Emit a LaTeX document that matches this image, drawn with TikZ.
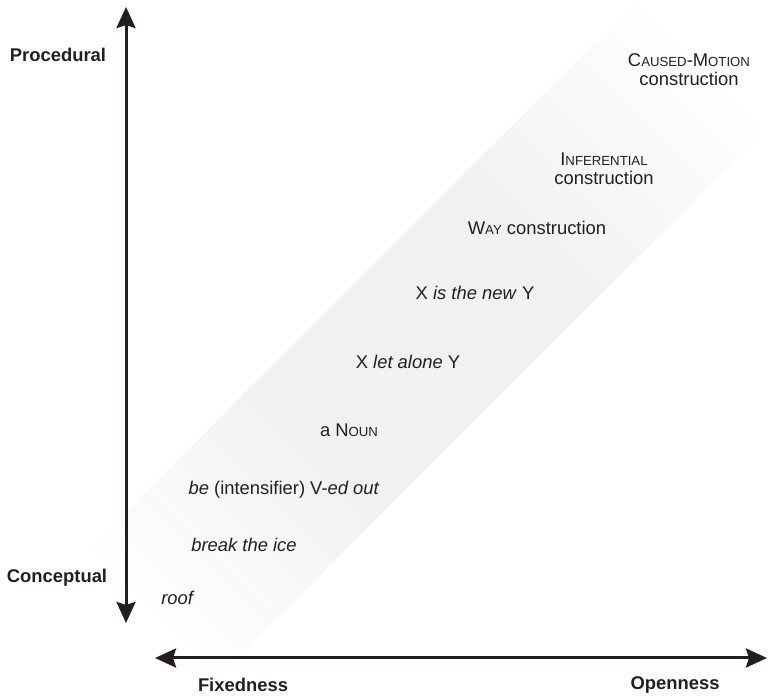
\documentclass[tikz,border=0pt]{standalone}
\usepackage{fontspec}
\setmainfont{Liberation Sans}
\usetikzlibrary{arrows.meta}
\definecolor{bandgray}{RGB}{240,241,241}
\definecolor{inkgray}{RGB}{35,31,32}
\newcommand{\smcap}[1]{{\fontsize{13.2}{16}\selectfont #1}}

\begin{document}
\begin{tikzpicture}[x=1pt,y=1pt,
    axis/.style={line width=3pt, inkgray, {Stealth[length=21pt,width=19pt,inset=3pt]}-{Stealth[length=21pt,width=19pt,inset=3pt]}},
    pole/.style={font=\fontsize{18.4}{22}\selectfont\bfseries, text=inkgray, inner sep=0pt},
    entry/.style={font=\fontsize{18.4}{19}\selectfont, text=inkgray, align=center, inner sep=0pt}]
\useasboundingbox (0,0) rectangle (768,698);

% Band
\begin{scope}
    \clip (0,0) rectangle (768,698);
    \begin{scope}[transform canvas={shift={(68.5,0)},rotate=45}]
        \shade[left color=white, right color=bandgray] (110,-91) rectangle (360.5,91);
        \fill[bandgray] (360,-91) rectangle (640.5,91);
        \shade[left color=bandgray, right color=white] (640,-91) rectangle (900,91);
        \draw[black!7, line width=0.6pt] (514,-91) -- (514,91);
    \end{scope}
\end{scope}

% Axes
\coordinate (ptop) at (126,691);
\coordinate (pbot) at (126,75);
\coordinate (oleft) at (155,40);
\coordinate (oright) at (767,40);
\draw[axis] (ptop) -- (pbot);
\draw[axis] (oleft) -- (oright);

% Axis labels
\node[pole] (procedural) at (58,643) {Procedural};
\node[pole] (conceptual) at (57,120) {Conceptual};
\node[pole] (fixedness) at (243,13) {Fixedness};
\node[pole] (openness) at (675,13) {Openness};

% Constructions
\node[entry] (causedmotion) at (689,628) {C\smcap{AUSED}-M\smcap{OTION}\\construction};
\node[entry] (inferential) at (604,529) {I\smcap{NFERENTIAL}\\construction};
\node[entry] (way) at (537,470) {W\smcap{AY} construction};
\node[entry] (isthenew) at (475,405) {X \textit{is the new} Y};
\node[entry] (letalone) at (408,336) {X \textit{let alone} Y};
\node[entry] (anoun) at (349,268) {a N\smcap{OUN}};
\node[entry] (vedout) at (284,208) {\textit{be} (intensifier) V-\textit{ed out}};
\node[entry] (breakice) at (244,153) {\textit{break the ice}};
\node[entry] (roof) at (178,100) {\textit{roof}};
\end{tikzpicture}
\end{document}
